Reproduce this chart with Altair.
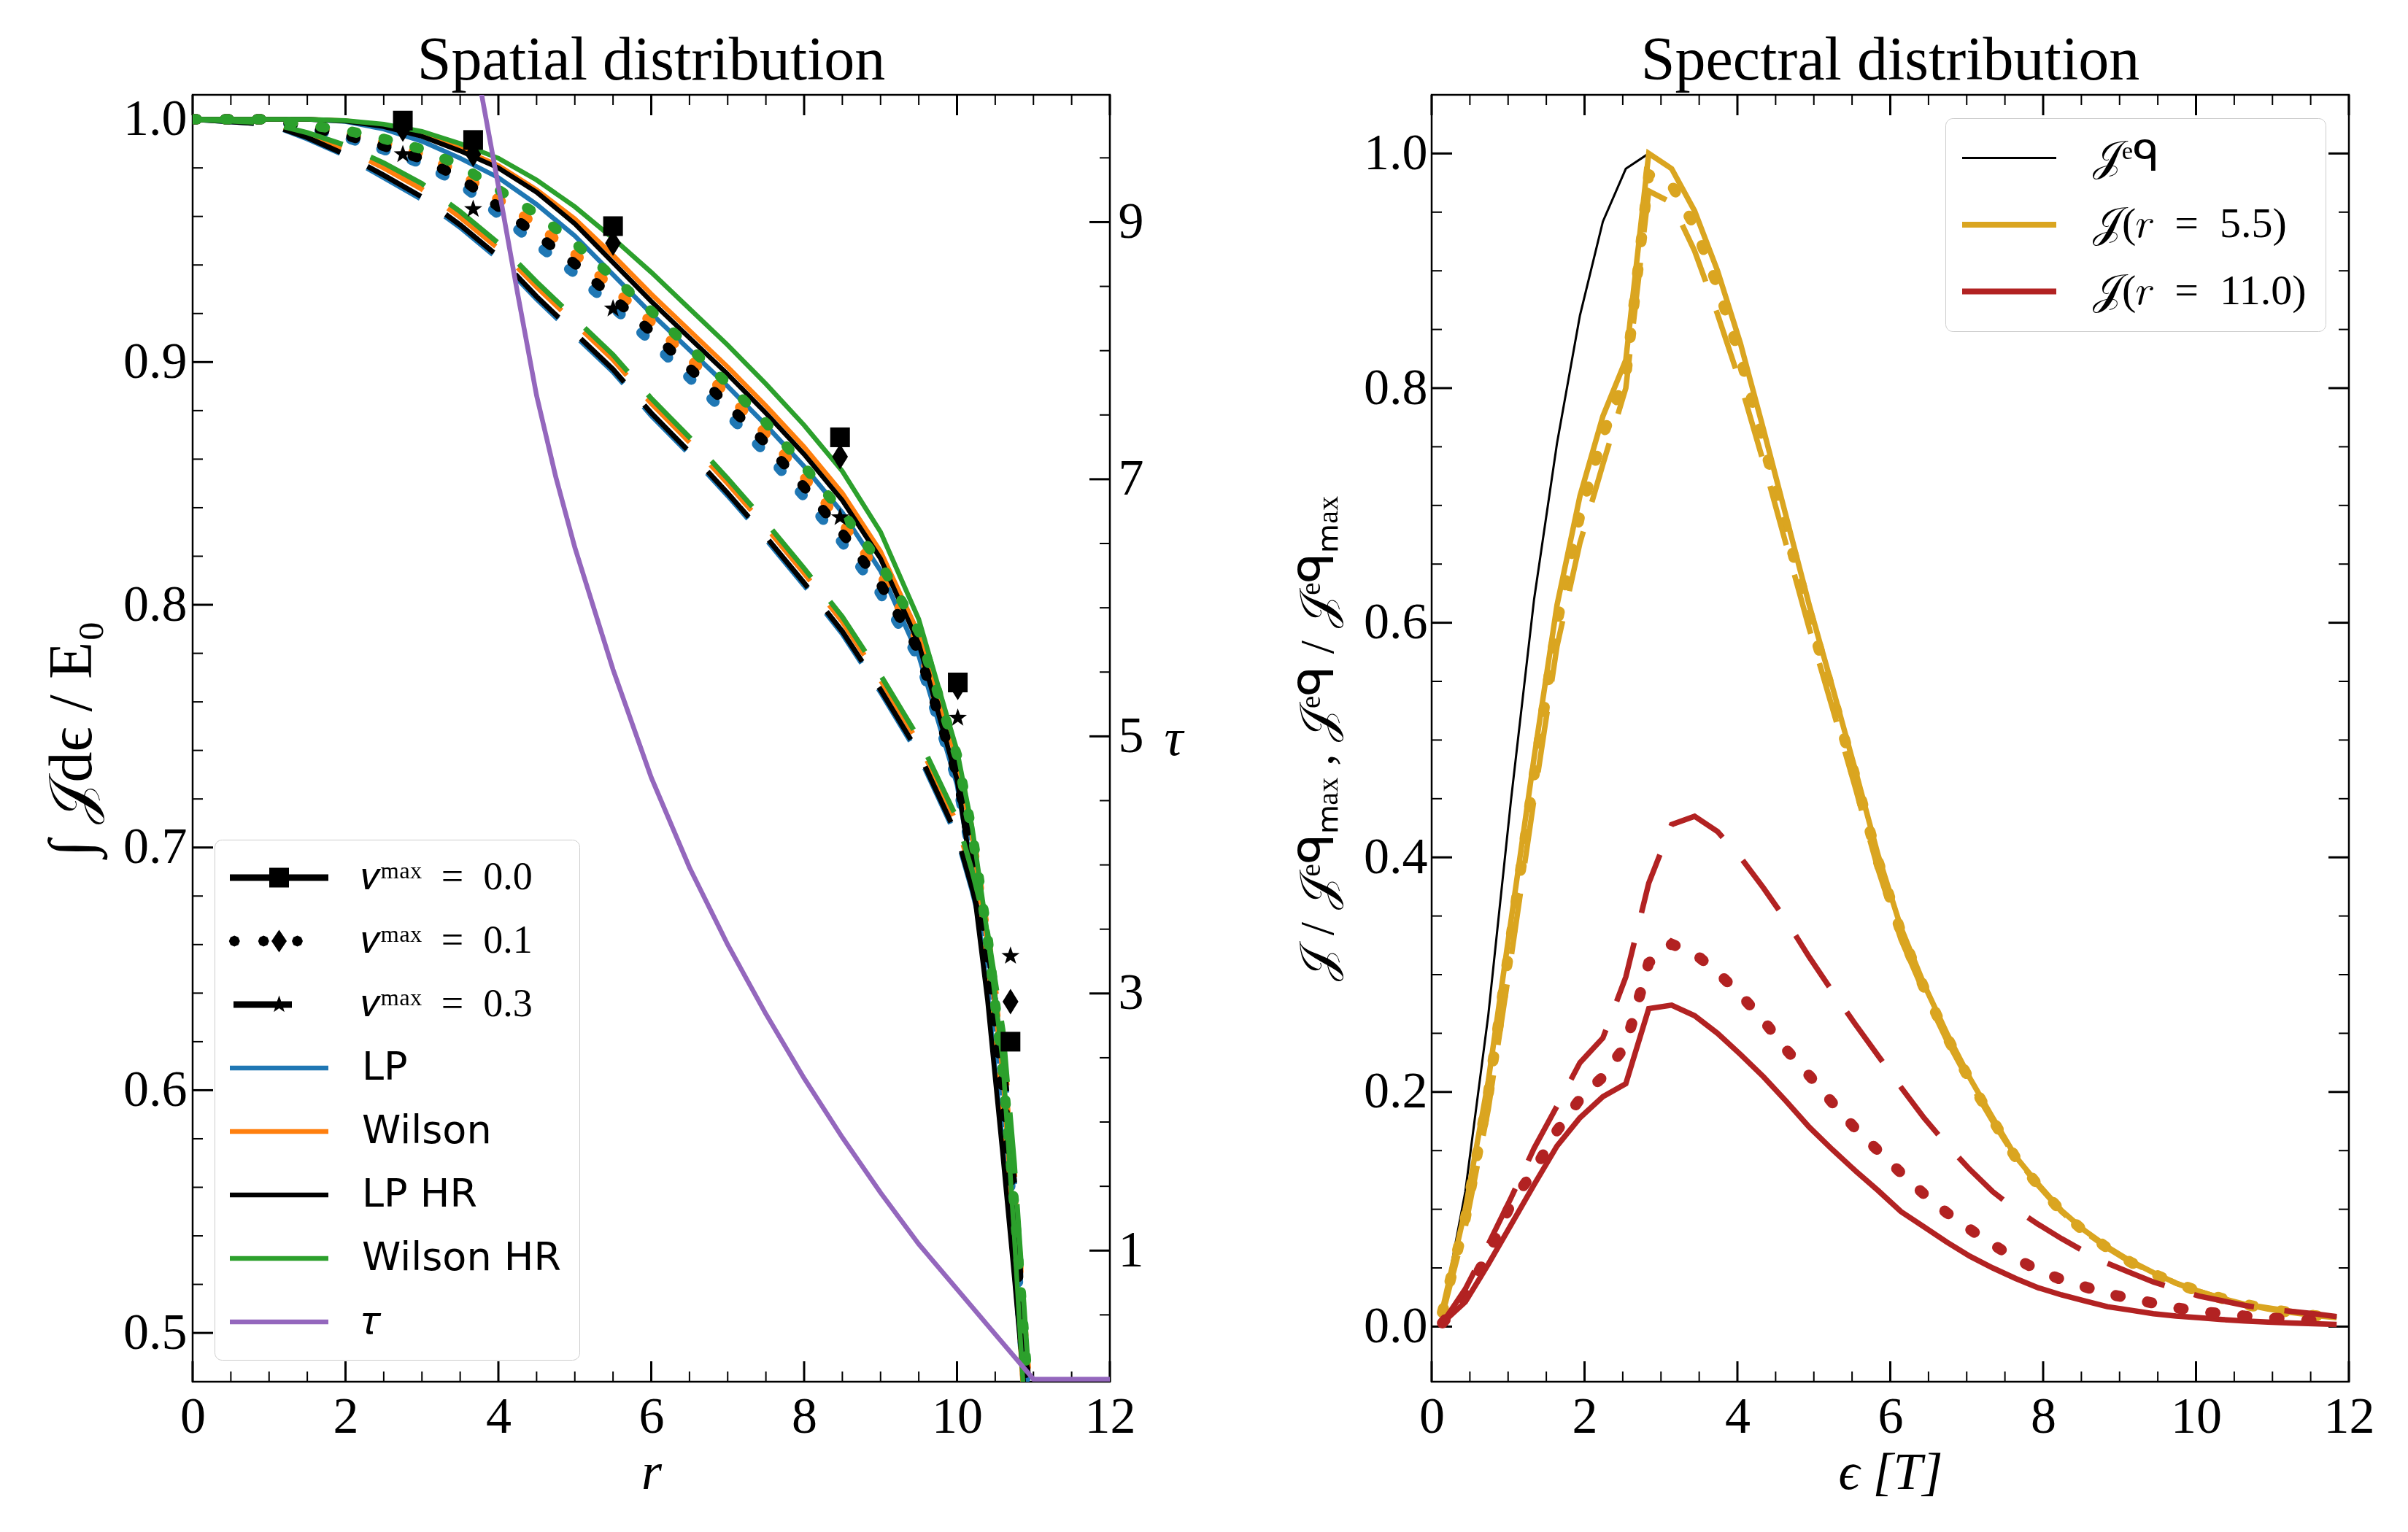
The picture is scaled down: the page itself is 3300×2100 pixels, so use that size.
import altair as alt
import pandas as pd

SERIF = "Liberation Serif"
SANS = "DejaVu Sans"
W, H = 1257, 1764  # plot area of each panel in px

# ----------------------------------------------------------------------
# Spatial distribution: integrated intensity against radius
# ----------------------------------------------------------------------
R = [0.0, 1.0, 1.5, 2.0, 2.5, 3.0, 3.5, 4.0, 4.5, 5.0, 5.5, 6.0, 6.5, 7.0, 7.5,
     8.0, 8.5, 9.0, 9.5, 10.0, 10.2, 10.4, 10.6, 10.75, 10.9, 11.0]

# v_max = 0.0 (solid)
LP_V00 = [1.000, 1.000, 1.000, 0.9991, 0.996, 0.991, 0.984, 0.976, 0.965, 0.952, 0.936, 0.920, 0.905,
          0.890, 0.874, 0.857, 0.838, 0.814, 0.779, 0.726, 0.690, 0.640, 0.577, 0.525, 0.470, 0.430]
WIL_V00 = [1.000, 1.000, 1.000, 0.9994, 0.9975, 0.994, 0.988, 0.981, 0.971, 0.959, 0.944, 0.928, 0.913,
           0.898, 0.882, 0.865, 0.846, 0.822, 0.788, 0.736, 0.704, 0.660, 0.607, 0.537, 0.458, 0.420]
LPHR_V00 = [1.000, 1.000, 1.000, 0.9993, 0.997, 0.993, 0.987, 0.980, 0.970, 0.957, 0.941, 0.925, 0.910,
            0.895, 0.879, 0.862, 0.843, 0.819, 0.784, 0.728, 0.688, 0.637, 0.573, 0.523, 0.470, 0.430]
WILHR_V00 = [1.000, 1.000, 1.000, 0.9995, 0.998, 0.995, 0.990, 0.984, 0.975, 0.964, 0.951, 0.937, 0.922,
             0.907, 0.891, 0.874, 0.855, 0.830, 0.794, 0.740, 0.708, 0.664, 0.612, 0.540, 0.460, 0.420]

# v_max = 0.1 (dotted)
LP_V01 = [1.000, 1.000, 0.9962, 0.9925, 0.9875, 0.9817, 0.9735, 0.961, 0.9485, 0.9365, 0.9225, 0.9085, 0.8935,
          0.8785, 0.8625, 0.8445, 0.8255, 0.8045, 0.778, 0.727, 0.695, 0.652, 0.597, 0.541, 0.479, 0.434]
WIL_V01 = [1.000, 1.000, 0.9972, 0.9945, 0.9905, 0.9857, 0.978, 0.967, 0.9565, 0.9445, 0.9305, 0.9165, 0.9015,
           0.8865, 0.8705, 0.8525, 0.8335, 0.8125, 0.785, 0.734, 0.702, 0.659, 0.604, 0.548, 0.486, 0.441]
LPHR_V01 = [1.000, 1.000, 0.9967, 0.9935, 0.989, 0.9837, 0.976, 0.964, 0.9525, 0.9405, 0.9265, 0.9125, 0.8975,
            0.8825, 0.8665, 0.8485, 0.8295, 0.8085, 0.781, 0.730, 0.698, 0.655, 0.600, 0.544, 0.482, 0.437]
WILHR_V01 = [1.000, 1.000, 0.9977, 0.9955, 0.992, 0.9877, 0.981, 0.971, 0.961, 0.949, 0.935, 0.921, 0.906,
             0.891, 0.875, 0.857, 0.838, 0.817, 0.789, 0.738, 0.706, 0.663, 0.608, 0.552, 0.490, 0.445]

# v_max = 0.3 (dashed)
LP_V03 = [1.000, 0.998, 0.992, 0.985, 0.976, 0.967, 0.9555, 0.9425, 0.926, 0.911, 0.896, 0.878, 0.862,
          0.845, 0.827, 0.808, 0.788, 0.764, 0.738, 0.704, 0.682, 0.657, 0.617, 0.562, 0.492, 0.447]
WIL_V03 = [1.000, 0.9985, 0.9935, 0.9878, 0.980, 0.9712, 0.9597, 0.9468, 0.931, 0.916, 0.901, 0.883, 0.867,
           0.850, 0.832, 0.813, 0.793, 0.769, 0.743, 0.710, 0.688, 0.663, 0.622, 0.567, 0.497, 0.452]
LPHR_V03 = [1.000, 0.998, 0.9925, 0.9855, 0.977, 0.968, 0.9565, 0.9435, 0.927, 0.912, 0.897, 0.879, 0.863,
            0.846, 0.828, 0.809, 0.789, 0.765, 0.739, 0.705, 0.683, 0.658, 0.618, 0.563, 0.493, 0.448]
WILHR_V03 = [1.000, 0.9985, 0.9945, 0.9893, 0.982, 0.9735, 0.962, 0.949, 0.933, 0.918, 0.903, 0.885, 0.869,
             0.852, 0.834, 0.815, 0.795, 0.771, 0.745, 0.712, 0.690, 0.665, 0.625, 0.570, 0.500, 0.455]

# reference points (black markers)
MARK_R = [2.75, 3.67, 5.50, 8.47, 10.01, 10.70]
SQUARE_E = [0.9995, 0.9915, 0.9560, 0.8690, 0.7680, 0.6200]
DIAMOND_E = [0.9960, 0.9856, 0.9490, 0.8610, 0.7660, 0.6365]
STAR_E = [0.9856, 0.9630, 0.9220, 0.8360, 0.7534, 0.6553]

# optical depth (right-hand axis)
TAU_R = [3.70, 3.80, 4.00, 4.25, 4.50, 4.75, 5.00, 5.50, 6.00, 6.50, 7.00, 7.50, 8.00, 8.50,
         9.00, 9.50, 10.00, 10.50, 11.00, 12.00]
TAU = [10.25, 9.93, 9.28, 8.45, 7.65, 7.02, 6.47, 5.52, 4.68, 3.98, 3.38, 2.84, 2.34, 1.88,
       1.45, 1.05, 0.70, 0.35, 0.0, 0.0]

# ----------------------------------------------------------------------
# Spectral distribution
# ----------------------------------------------------------------------
EPS = [0.14, 0.44, 0.74, 1.04, 1.34, 1.64, 1.94, 2.24, 2.54, 2.84, 3.14, 3.44, 3.74, 4.04,
       4.34, 4.64, 4.94, 5.24, 5.54, 5.84, 6.14, 6.44, 6.74, 7.04, 7.34, 7.64, 7.94, 8.24,
       8.54, 8.84, 9.14, 9.44, 9.74, 10.04, 10.34, 10.64, 10.94, 11.24, 11.54, 11.84]

JEQ = [0.012, 0.115, 0.265, 0.450, 0.620, 0.753, 0.862, 0.942, 0.987, 1.000, 0.987, 0.951, 0.900, 0.838,
       0.765, 0.690, 0.615, 0.546, 0.475, 0.402, 0.340, 0.292, 0.250, 0.212, 0.178, 0.145, 0.121, 0.099,
       0.082, 0.068, 0.056, 0.046, 0.037, 0.030, 0.024, 0.019, 0.015, 0.012, 0.0095, 0.0075]

J55_V00 = [0.014, 0.100, 0.209, 0.347, 0.485, 0.615, 0.708, 0.776, 0.824, 1.000, 0.987, 0.951, 0.900, 0.838,
           0.765, 0.690, 0.615, 0.546, 0.475, 0.402, 0.340, 0.292, 0.250, 0.212, 0.178, 0.145, 0.121, 0.099,
           0.082, 0.068, 0.056, 0.046, 0.037, 0.030, 0.024, 0.019, 0.015, 0.012, 0.0095, 0.0075]
J55_V01 = [0.012, 0.092, 0.198, 0.333, 0.470, 0.600, 0.692, 0.760, 0.810, 0.982, 0.973, 0.938, 0.887, 0.826,
           0.754, 0.680, 0.606, 0.538, 0.469, 0.397, 0.336, 0.289, 0.247, 0.210, 0.176, 0.144, 0.120, 0.098,
           0.081, 0.067, 0.055, 0.045, 0.037, 0.030, 0.024, 0.019, 0.015, 0.012, 0.0095, 0.0075]
J55_V03 = [0.010, 0.085, 0.185, 0.315, 0.450, 0.580, 0.668, 0.735, 0.800, 0.968, 0.958, 0.917, 0.863, 0.804,
           0.737, 0.666, 0.595, 0.528, 0.460, 0.390, 0.330, 0.285, 0.244, 0.208, 0.175, 0.144, 0.120, 0.098,
           0.081, 0.067, 0.055, 0.046, 0.037, 0.030, 0.024, 0.019, 0.016, 0.013, 0.010, 0.008]

J110_V00 = [0.003, 0.021, 0.053, 0.087, 0.121, 0.154, 0.178, 0.196, 0.207, 0.271, 0.274, 0.265, 0.250, 0.232,
            0.213, 0.192, 0.170, 0.151, 0.133, 0.116, 0.098, 0.085, 0.072, 0.060, 0.050, 0.041, 0.033, 0.027,
            0.022, 0.017, 0.014, 0.011, 0.0090, 0.0075, 0.0060, 0.0048, 0.0038, 0.0030, 0.0024, 0.0018]
J110_V01 = [0.003, 0.026, 0.062, 0.105, 0.133, 0.167, 0.194, 0.213, 0.240, 0.310, 0.326, 0.318, 0.302, 0.283,
            0.261, 0.236, 0.214, 0.191, 0.169, 0.150, 0.131, 0.113, 0.097, 0.083, 0.070, 0.058, 0.048, 0.040,
            0.034, 0.028, 0.024, 0.020, 0.016, 0.013, 0.011, 0.009, 0.0075, 0.0063, 0.0052, 0.004]
J110_V03 = [0.003, 0.032, 0.070, 0.110, 0.152, 0.188, 0.225, 0.246, 0.298, 0.378, 0.428, 0.435, 0.422, 0.400,
            0.374, 0.346, 0.315, 0.286, 0.258, 0.231, 0.204, 0.178, 0.155, 0.134, 0.115, 0.100, 0.087, 0.075,
            0.064, 0.054, 0.046, 0.038, 0.032, 0.026, 0.022, 0.018, 0.015, 0.013, 0.011, 0.0085]

# ----------------------------------------------------------------------
# colours, line styles, legend entries
# ----------------------------------------------------------------------
C_LP, C_WIL, C_LPHR, C_WILHR, C_TAU = "#1f77b4", "#ff7f0e", "#000000", "#2ca02c", "#9467bd"
C_EQ, C_R55, C_R110 = "#000000", "#daa520", "#b22222"

STYLE_L = {
    "0.0": {"strokeWidth": 6.5},
    "0.1": {"strokeWidth": 14, "strokeDash": [6, 38], "strokeCap": "round"},
    "0.3": {"strokeWidth": 7, "strokeDash": [84, 42]},
}
STYLE_R = {
    "eq": {"strokeWidth": 3},
    "0.0": {"strokeWidth": 7.5},
    "0.1": {"strokeWidth": 15, "strokeDash": [6, 38], "strokeCap": "round"},
    "0.3": {"strokeWidth": 7.5, "strokeDash": [84, 42]},
}

STAR = ("M0,-1L0.235,-0.324L0.951,-0.309L0.38,0.124L0.588,0.809L0,0.4"
        "L-0.588,0.809L-0.38,0.124L-0.951,-0.309L-0.235,-0.324Z")
THIN_DIAMOND = "M0,-1L0.62,0L0,1L-0.62,0Z"


def octagon(cx, r=0.3):
    k = 0.707 * r
    pts = [(cx + r, 0), (cx + k, k), (cx, r), (cx - k, k), (cx - r, 0),
           (cx - k, -k), (cx, -r), (cx + k, -k)]
    return "M" + "L".join(f"{x:.3f},{y:.3f}" for x, y in pts) + "Z"


def bar(x0, x1, half):
    return f"M{x0},{-half}H{x1}V{half}H{x0}Z"


STAR_SMALL = ("M0,-0.5L0.118,-0.162L0.476,-0.155L0.19,0.062L0.294,0.405L0,0.2"
              "L-0.294,0.405L-0.19,0.062L-0.476,-0.155L-0.118,-0.162Z")

SP = "\u2002"  # en space, mimics math spacing around "="

# legend swatches are drawn as filled paths (unit = 25 px)
LEG_L_KEYS = [f"𝑣ᵐᵃˣ{SP}={SP}0.0", f"𝑣ᵐᵃˣ{SP}={SP}0.1", f"𝑣ᵐᵃˣ{SP}={SP}0.3",
              "LP", "Wilson", "LP HR", "Wilson HR", "𝜏"]
LEG_L_COLORS = ["#000000", "#000000", "#000000", C_LP, C_WIL, C_LPHR, C_WILHR, C_TAU]
LEG_L_PATHS = [
    bar(-2.7, 2.7, 0.18) + bar(-0.54, 0.54, 0.54),
    octagon(-2.45) + octagon(-0.85) + octagon(1.0) + "M0,-0.62L0.42,0L0,0.62L-0.42,0Z",
    bar(-2.5, 0.7, 0.18) + STAR_SMALL,
    bar(-2.7, 2.7, 0.13), bar(-2.7, 2.7, 0.13), bar(-2.7, 2.7, 0.13),
    bar(-2.7, 2.7, 0.13), bar(-2.7, 2.7, 0.13),
]
LEG_R_KEYS = ["𝒥ᵉᑫ", f"𝒥(𝑟{SP}={SP}5.5)", f"𝒥(𝑟{SP}={SP}11.0)"]
LEG_R_COLORS = [C_EQ, C_R55, C_R110]
LEG_R_PATHS = [bar(-2.58, 2.58, 0.06), bar(-2.58, 2.58, 0.16), bar(-2.58, 2.58, 0.16)]

# ----------------------------------------------------------------------
# scales, axes, ticks
# ----------------------------------------------------------------------
XS_L = alt.Scale(domain=[0, 12], nice=False, zero=False)
YS_L = alt.Scale(domain=[0.4799, 1.0101], nice=False, zero=False)
TS_L = alt.Scale(domain=[-0.02, 9.99], nice=False, zero=False)
XS_R = alt.Scale(domain=[0, 12], nice=False, zero=False)
YS_R = alt.Scale(domain=[-0.047, 1.050], nice=False, zero=False)

X_MAJOR = [0, 2, 4, 6, 8, 10, 12]
X_MINOR = [0.5 * i for i in range(1, 24) if i % 4 != 0]
YL_MAJOR = [0.5, 0.6, 0.7, 0.8, 0.9, 1.0]
YL_MINOR = [round(0.5 + 0.02 * i, 2) for i in range(26) if i % 5 != 0]
TAU_MAJOR = [1, 3, 5, 7, 9]
TAU_MINOR = [0.5 * i for i in range(1, 20) if i % 4 != 2]
YR_MAJOR = [0.0, 0.2, 0.4, 0.6, 0.8, 1.0]
YR_MINOR = [round(0.05 * i, 2) for i in range(1, 20) if i % 4 != 0]

AX_R = alt.Axis(orient="bottom", values=X_MAJOR, format="d", title="r", titleFontStyle="italic",
                labelPadding=14, titlePadding=6)
AX_EL = alt.Axis(orient="left", values=YL_MAJOR, format=".1f", title="∫ 𝒥dϵ / E₀", titleFontSize=84,
                 labelPadding=8, titlePadding=26)
AX_TAU = alt.Axis(orient="right", values=TAU_MAJOR, format="d", title="τ", titleAngle=0,
                  titleFontStyle="italic", titleAlign="left", titleBaseline="middle",
                  labelPadding=11, titlePadding=28)
AX_EPS = alt.Axis(orient="bottom", values=X_MAJOR, format="d", title="ϵ [T]", titleFontStyle="italic",
                  labelPadding=14, titlePadding=6)
AX_J = alt.Axis(orient="left", values=YR_MAJOR, format=".1f", titleFontSize=66,
                title="𝒥 / 𝒥ᵉᑫₘₐₓ ,  𝒥ᵉᑫ / 𝒥ᵉᑫₘₐₓ", labelPadding=6, titlePadding=28)

MAJ_LEN, MIN_LEN, MAJ_W, MIN_W = 28, 14, 3, 2


def xticks(values, scale, axis, length, width, top):
    y0, y1 = (0, length) if top else (H, H - length)
    return alt.Chart(pd.DataFrame({"t": values})).mark_rule(color="black", strokeWidth=width).encode(
        x=alt.X("t:Q", scale=scale, axis=axis), y=alt.value(y0), y2=alt.value(y1))


def yticks(values, scale, axis, length, width, right):
    x0, x1 = (W, W - length) if right else (0, length)
    return alt.Chart(pd.DataFrame({"t": values})).mark_rule(color="black", strokeWidth=width).encode(
        y=alt.Y("t:Q", scale=scale, axis=axis), x=alt.value(x0), x2=alt.value(x1))


def frame_ticks(xs, xax, ys, yax, y_major, y_minor, right_side):
    layers = []
    for top in (False, True):
        layers.append(xticks(X_MINOR, xs, xax, MIN_LEN, MIN_W, top))
        layers.append(xticks(X_MAJOR, xs, xax, MAJ_LEN, MAJ_W, top))
    sides = (False, True) if right_side else (False,)
    for right in sides:
        layers.append(yticks(y_minor, ys, yax, MIN_LEN, MIN_W, right))
        layers.append(yticks(y_major, ys, yax, MAJ_LEN, MAJ_W, right))
    return layers


def line(xname, xs, ys, xscale, yscale, xaxis, yaxis, color, style):
    df = pd.DataFrame({xname: xs, "val": ys})
    return alt.Chart(df).mark_line(color=color, clip=True, **style).encode(
        x=alt.X(f"{xname}:Q", scale=xscale, axis=xaxis),
        y=alt.Y("val:Q", scale=yscale, axis=yaxis))


def legend_holder(xname, keys, colors, paths, xscale, yscale, xaxis, yaxis, legend):
    # off-canvas points that only carry the legend
    df = pd.DataFrame({xname: [-50.0] * len(keys), "val": [-50.0] * len(keys), "key": keys})
    return alt.Chart(df).mark_point(filled=True, size=2500, opacity=1, strokeWidth=0, clip=True).encode(
        x=alt.X(f"{xname}:Q", scale=xscale, axis=xaxis),
        y=alt.Y("val:Q", scale=yscale, axis=yaxis),
        fill=alt.Fill("key:N", scale=alt.Scale(domain=keys, range=colors), legend=legend),
        shape=alt.Shape("key:N", scale=alt.Scale(domain=keys, range=paths), legend=legend),
    )


# ----------------------------------------------------------------------
# left panel
# ----------------------------------------------------------------------
LEFT_SERIES = [
    (LP_V00, C_LP, "0.0"), (LP_V01, C_LP, "0.1"), (LP_V03, C_LP, "0.3"),
    (WIL_V00, C_WIL, "0.0"), (WIL_V01, C_WIL, "0.1"), (WIL_V03, C_WIL, "0.3"),
    (LPHR_V00, C_LPHR, "0.0"), (LPHR_V01, C_LPHR, "0.1"), (LPHR_V03, C_LPHR, "0.3"),
    (WILHR_V00, C_WILHR, "0.0"), (WILHR_V01, C_WILHR, "0.1"), (WILHR_V03, C_WILHR, "0.3"),
]
left_lines = [line("r", R, vals, XS_L, YS_L, AX_R, AX_EL, c, STYLE_L[v]) for vals, c, v in LEFT_SERIES]


def markers(vals, shape, size):
    return alt.Chart(pd.DataFrame({"r": MARK_R, "val": vals})).mark_point(
        shape=shape, size=size, filled=True, color="black", opacity=1, strokeWidth=0
    ).encode(x=alt.X("r:Q", scale=XS_L, axis=AX_R), y=alt.Y("val:Q", scale=YS_L, axis=AX_EL))


left_markers = [markers(SQUARE_E, "square", 729), markers(DIAMOND_E, THIN_DIAMOND, 1225),
                markers(STAR_E, STAR, 690)]

SANS_LABELS = "indexof(['LP','Wilson','LP HR','Wilson HR'], datum.label) >= 0"
LEGEND_L = alt.Legend(
    title=None, orient="bottom-left", offset=30, padding=25, symbolSize=2500, symbolOffset=36.5,
    symbolStrokeWidth=0, labelOffset=86.5, labelFontSize=54, labelColor="black",
    labelFont=alt.ExprRef(expr=f"{SANS_LABELS} ? '{SANS}' : '{SERIF}'"),
    labelLimit=1000, rowPadding=33, fillColor="rgba(255,255,255,0.85)", strokeColor="#cccccc",
    cornerRadius=10,
)
left_legend = legend_holder("r", LEG_L_KEYS, LEG_L_COLORS, LEG_L_PATHS, XS_L, YS_L, AX_R, AX_EL, LEGEND_L)

left_main = alt.layer(*frame_ticks(XS_L, AX_R, YS_L, AX_EL, YL_MAJOR, YL_MINOR, False),
                      *left_lines, *left_markers, left_legend)

tau_line = alt.Chart(pd.DataFrame({"r": TAU_R, "tau": TAU})).mark_line(
    color=C_TAU, strokeWidth=6.5, clip=True
).encode(x=alt.X("r:Q", scale=XS_L, axis=AX_R), y=alt.Y("tau:Q", scale=TS_L, axis=AX_TAU))
left_tau = alt.layer(
    tau_line,
    yticks(TAU_MINOR, TS_L, AX_TAU, MIN_LEN, MIN_W, True),
    yticks(TAU_MAJOR, TS_L, AX_TAU, MAJ_LEN, MAJ_W, True),
)

left = alt.layer(left_main, left_tau).resolve_scale(y="independent").properties(
    width=W, height=H,
    title=alt.TitleParams("Spatial distribution", anchor="middle", offset=2),
)

# ----------------------------------------------------------------------
# right panel
# ----------------------------------------------------------------------
RIGHT_SERIES = [
    (JEQ, C_EQ, "eq"),
    (J55_V00, C_R55, "0.0"), (J55_V01, C_R55, "0.1"), (J55_V03, C_R55, "0.3"),
    (J110_V00, C_R110, "0.0"), (J110_V01, C_R110, "0.1"), (J110_V03, C_R110, "0.3"),
]
right_lines = [line("eps", EPS, vals, XS_R, YS_R, AX_EPS, AX_J, c, STYLE_R[v]) for vals, c, v in RIGHT_SERIES]

LEGEND_R = alt.Legend(
    title=None, orient="top-right", offset=32, padding=25.5, symbolSize=2500, symbolOffset=33,
    symbolStrokeWidth=0, labelOffset=85.5, labelFontSize=58, labelFont=SERIF, labelColor="black",
    labelLimit=1000, rowPadding=33.5, fillColor="rgba(255,255,255,0.85)", strokeColor="#cccccc",
    cornerRadius=10,
)
right_legend = legend_holder("eps", LEG_R_KEYS, LEG_R_COLORS, LEG_R_PATHS, XS_R, YS_R, AX_EPS, AX_J, LEGEND_R)

right = alt.layer(*frame_ticks(XS_R, AX_EPS, YS_R, AX_J, YR_MAJOR, YR_MINOR, True),
                  *right_lines, right_legend).properties(
    width=W, height=H,
    title=alt.TitleParams("Spectral distribution", anchor="middle", offset=2),
)

chart = (
    alt.hconcat(left, right, spacing=149)
    .resolve_scale(x="independent", y="independent", fill="independent", shape="independent")
    .resolve_legend(fill="independent", shape="independent")
    .properties(padding={"left": 56, "top": 40, "right": 10, "bottom": 10}, background="white")
    .configure_view(stroke="black", strokeWidth=2.5)
    .configure_axis(grid=False, domain=False, ticks=False, labelFont=SERIF, labelFontSize=70,
                    labelColor="black", titleFont=SERIF, titleFontSize=72, titleFontWeight="normal",
                    titleColor="black", labelFlush=False, labelOverlap=False)
    .configure_title(font=SERIF, fontSize=84, fontWeight="normal", color="black")
)

chart.save("out.html", embed_options={"renderer": "svg", "actions": False})
